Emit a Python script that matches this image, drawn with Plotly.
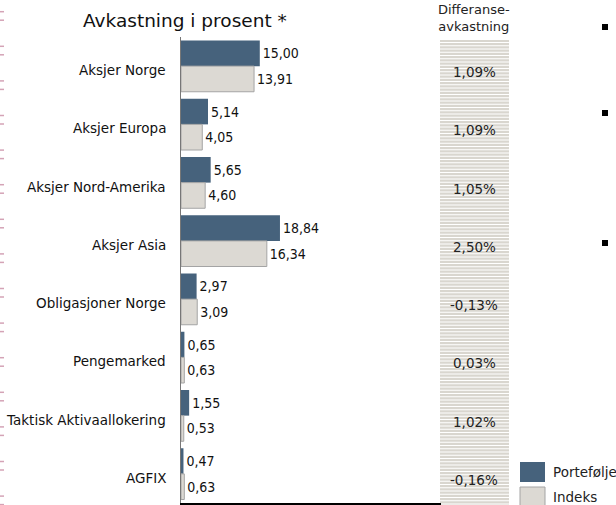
import plotly.graph_objects as go

# Data
categories = ["Aksjer Norge", "Aksjer Europa", "Aksjer Nord-Amerika", "Aksjer Asia",
              "Obligasjoner Norge", "Pengemarked", "Taktisk Aktivaallokering", "AGFIX"]
portefolje = [15.00, 5.14, 5.65, 18.84, 2.97, 0.65, 1.55, 0.47]
indeks = [13.91, 4.05, 4.60, 16.34, 3.09, 0.63, 0.53, 0.63]
differanse = [1.09, 1.09, 1.05, 2.50, -0.13, 0.03, 1.02, -0.16]

# page geometry (pixels)
W, H = 616, 505
L, R, T, B = 181, 441, 37, 503

def px_x(px):
    return (px - L) / (R - L)

def px_y(py):
    return (B - py) / (B - T)

FONT = "DejaVu Sans"
NARROW = "DejaVu Sans Condensed, DejaVu Sans"
BLUE = "#46627c"
GREY = "#dcd9d3"
STRIPE = "#d9d6cf"

fig = go.Figure()
fig.add_trace(go.Bar(
    y=categories, x=portefolje, orientation="h", name="Portefølje",
    marker=dict(color=BLUE, line=dict(color=BLUE, width=0)),
    text=portefolje, texttemplate="%{x:.2f}", textposition="outside",
    textfont=dict(family=NARROW, size=14, color="#111"),
    constraintext="none", cliponaxis=False, showlegend=False,
))
fig.add_trace(go.Bar(
    y=categories, x=indeks, orientation="h", name="Indeks",
    marker=dict(color=GREY, line=dict(color="#a4a4a4", width=1)),
    text=indeks, texttemplate="%{x:.2f}", textposition="outside",
    textfont=dict(family=NARROW, size=14, color="#111"),
    constraintext="none", cliponaxis=False, showlegend=False,
))

shapes = []

# striped column for difference returns
shapes.append(dict(type="rect", xref="paper", yref="paper",
                   x0=px_x(440), x1=px_x(509), y0=px_y(40), y1=px_y(505),
                   fillcolor=STRIPE, line=dict(width=0), layer="below"))
y = 42.5
while y < 505:
    shapes.append(dict(type="line", xref="paper", yref="paper",
                       x0=px_x(440), x1=px_x(509), y0=px_y(y), y1=px_y(y),
                       line=dict(color="white", width=1), layer="below"))
    y += 3.25

# small black bullets at right edge
for by in [24, 110, 240]:
    shapes.append(dict(type="rect", xref="paper", yref="paper",
                       x0=px_x(602), x1=px_x(608), y0=px_y(by), y1=px_y(by + 6),
                       fillcolor="black", line=dict(width=0)))

# pink marks along the left border
for k in range(15):
    for dy in (0, 8.5):
        yy = 11.7 + 34.6 * k + dy
        shapes.append(dict(type="line", xref="paper", yref="paper",
                           x0=px_x(0), x1=px_x(4), y0=px_y(yy), y1=px_y(yy),
                           line=dict(color="#d4a3b6", width=1.5)))

# legend swatches
shapes.append(dict(type="rect", xref="paper", yref="paper",
                   x0=px_x(520), x1=px_x(545), y0=px_y(462), y1=px_y(482),
                   fillcolor=BLUE, line=dict(width=0)))
shapes.append(dict(type="rect", xref="paper", yref="paper",
                   x0=px_x(520), x1=px_x(545), y0=px_y(487), y1=px_y(507),
                   fillcolor=GREY, line=dict(color="#a4a4a4", width=1)))

annotations = [
    dict(text="Avkastning i prosent *", xref="paper", yref="paper",
         x=px_x(185), y=px_y(21), xanchor="center", yanchor="middle",
         showarrow=False, font=dict(family=FONT, size=18.5, color="#111")),
    dict(text="Differanse-<br>avkastning", xref="paper", yref="paper",
         x=px_x(474), y=px_y(18), xanchor="center", yanchor="middle",
         showarrow=False, font=dict(family=FONT, size=13, color="#222")),
    dict(text="Portefølje", xref="paper", yref="paper",
         x=px_x(551), y=px_y(472), xanchor="left", yanchor="middle",
         showarrow=False, font=dict(family=FONT, size=13.5, color="#222")),
    dict(text="Indeks", xref="paper", yref="paper",
         x=px_x(551), y=px_y(497), xanchor="left", yanchor="middle",
         showarrow=False, font=dict(family=FONT, size=13.5, color="#222")),
]
# category labels sit a little below the centre of each bar pair
for cat in categories:
    annotations.append(dict(
        text=cat, xref="paper", yref="y", x=0, y=cat, xshift=-13, yshift=-4,
        xanchor="right", yanchor="middle", showarrow=False,
        font=dict(family=FONT, size=13.5, color="#111")))
for cat, d in zip(categories, differanse):
    annotations.append(dict(
        text=f"{d:.2f}".replace(".", ",") + "%", xref="paper", yref="y",
        x=px_x(474), y=cat, yshift=-6, xanchor="center", yanchor="middle",
        showarrow=False, font=dict(family=FONT, size=13.5, color="#222")))

fig.update_layout(
    width=W, height=H,
    margin=dict(l=L, r=W - R, t=T, b=H - B, autoexpand=False),
    plot_bgcolor="white", paper_bgcolor="white",
    barmode="group", bargap=0.12, bargroupgap=0,
    separators=", ",
    shapes=shapes, annotations=annotations,
    showlegend=False,
)
fig.update_xaxes(range=[0, 49.5], showline=True, linecolor="black", linewidth=1.5,
                 showgrid=False, zeroline=False, showticklabels=False, ticks="")
fig.update_yaxes(autorange="reversed", showline=True, linecolor="#777", linewidth=1,
                 showgrid=False, zeroline=False, ticks="", showticklabels=False)

# drop the page's default body margin so the figure sits at the top-left corner
fig.write_html("out.html", config={"displayModeBar": False},
               post_script="document.body.style.margin='0';")
